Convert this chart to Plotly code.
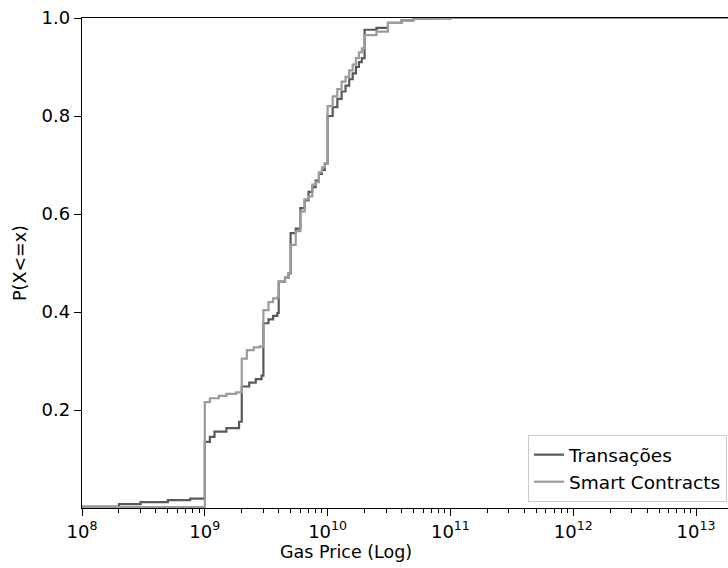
import plotly.graph_objects as go

# Transações (dark series): gas price and cumulative probability (step CDF)
trans_price = [1e8, 2e8, 3e8, 5e8, 7.6e8, 1e9, 1.1e9, 1.2e9, 1.5e9, 1.9e9,
               2e9, 2.3e9, 2.6e9, 2.9e9, 3e9, 3.3e9, 3.6e9, 3.9e9, 4e9, 4.5e9,
               4.8e9, 5e9, 5.5e9, 6e9, 6.5e9, 7e9, 7.5e9, 8e9, 8.5e9, 9e9,
               9.5e9, 1e10, 1.1e10, 1.2e10, 1.3e10, 1.4e10, 1.5e10, 1.6e10, 1.7e10, 1.8e10,
               1.9e10, 2e10, 2.5e10, 3.1e10, 4e10, 5e10, 7e10, 1e11, 2e13]
trans_cdf = [0.003, 0.008, 0.012, 0.016, 0.019, 0.135, 0.145, 0.156, 0.163, 0.176,
             0.248, 0.256, 0.263, 0.270, 0.377, 0.385, 0.392, 0.398, 0.462, 0.470,
             0.479, 0.561, 0.570, 0.612, 0.628, 0.645, 0.655, 0.668, 0.682, 0.690,
             0.703, 0.800, 0.818, 0.835, 0.850, 0.862, 0.875, 0.887, 0.900, 0.910,
             0.918, 0.976, 0.980, 0.990, 0.995, 0.998, 0.999, 1.0, 1.0]

# Smart Contracts (light series)
sc_price = [1e8, 1e9, 1.1e9, 1.3e9, 1.5e9, 1.8e9, 2e9, 2.2e9, 2.5e9, 2.8e9,
            3e9, 3.3e9, 3.6e9, 3.9e9, 4e9, 4.5e9, 4.8e9, 5e9, 5.5e9, 6e9,
            6.5e9, 7e9, 7.5e9, 8e9, 8.5e9, 9e9, 9.5e9, 1e10, 1.1e10, 1.2e10,
            1.3e10, 1.4e10, 1.5e10, 1.6e10, 1.7e10, 1.8e10, 1.9e10, 2e10, 2.5e10, 3.1e10,
            4e10, 5e10, 7e10, 1e11, 2e13]
sc_cdf = [0.002, 0.216, 0.224, 0.229, 0.233, 0.236, 0.305, 0.322, 0.328, 0.330,
          0.404, 0.420, 0.428, 0.430, 0.462, 0.470, 0.479, 0.537, 0.565, 0.605,
          0.630, 0.636, 0.660, 0.665, 0.685, 0.695, 0.703, 0.820, 0.840, 0.855,
          0.870, 0.880, 0.893, 0.905, 0.918, 0.930, 0.938, 0.965, 0.972, 0.990,
          0.995, 0.998, 0.999, 1.0, 1.0]

y_ticks = [0.2, 0.4, 0.6, 0.8, 1.0]
decades = [8, 9, 10, 11, 12, 13]
x_tick_labels = ["10<sup>%d</sup>" % d for d in decades]

minor_vals = [m * 10 ** d for d in decades for m in range(2, 10)]

fig = go.Figure()
fig.add_trace(go.Scatter(x=trans_price, y=trans_cdf, mode="lines", name="Transações",
                         line=dict(color="#595959", width=2.2, shape="hv")))
fig.add_trace(go.Scatter(x=sc_price, y=sc_cdf, mode="lines", name="Smart Contracts",
                         line=dict(color="#9c9c9c", width=2.2, shape="hv")))

font_family = "DejaVu Sans"
fs = 17.5

fig.update_layout(
    width=728, height=568,
    margin=dict(l=82, r=0, t=18, b=60),
    paper_bgcolor="white", plot_bgcolor="white",
    font=dict(family=font_family, size=fs, color="black"),
    showlegend=True,
    legend=dict(x=0.9985, y=0.012, xanchor="right", yanchor="bottom",
                bgcolor="rgba(255,255,255,0.8)", bordercolor="#cccccc", borderwidth=1,
                font=dict(size=18.5, family=font_family), tracegroupgap=0),
    xaxis=dict(type="log", range=[8, 8 + 646 / 122.8],
               tickvals=[10 ** d for d in decades], ticktext=x_tick_labels,
               showline=True, linecolor="black", linewidth=1.3, mirror=True,
               ticks="outside", ticklen=7, tickwidth=1.3, tickcolor="black",
               showgrid=False, zeroline=False,
               minor=dict(tickvals=minor_vals, ticks="outside", ticklen=4, tickwidth=1,
                          tickcolor="black", showgrid=False),
               tickfont=dict(size=18)),
    yaxis=dict(range=[0, 1], tickvals=y_ticks, tickformat=".1f",
               showline=True, linecolor="black", linewidth=1.3, mirror=False,
               ticks="outside", ticklen=7, tickwidth=1.3, tickcolor="black",
               showgrid=False, zeroline=False,
               title=dict(text="P(X<=x)", font=dict(size=fs), standoff=10),
               tickfont=dict(size=18)),
    annotations=[dict(text="Gas Price (Log)", xref="paper", yref="paper",
                      x=(346 - 82) / 646, y=0, yshift=-32, xanchor="center", yanchor="top",
                      showarrow=False, font=dict(size=fs))],
)

fig.write_html("out.html")
